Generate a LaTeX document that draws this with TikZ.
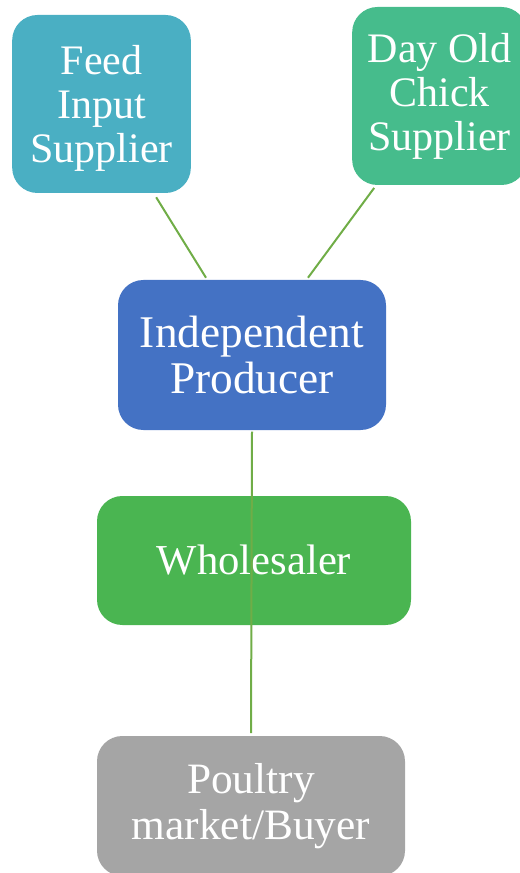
\documentclass[tikz,border=0pt]{standalone}
\usepackage{fontspec}
\setmainfont{Liberation Serif}
\usetikzlibrary{calc}

\definecolor{feedcol}{HTML}{4AAFC3}
\definecolor{chickcol}{HTML}{46BC8C}
\definecolor{prodcol}{HTML}{4472C4}
\definecolor{wholecol}{HTML}{4AB551}
\definecolor{buyercol}{HTML}{A5A5A5}
\definecolor{linkcol}{HTML}{70AD47}

\tikzset{
  box/.style={rounded corners=19pt, text=white, align=center, inner sep=0pt,
    font=\fontsize{31.5}{33}\selectfont},
  link/.style={draw=linkcol, line width=1.5pt},
}

\begin{document}
\begin{tikzpicture}[x=0.75pt,y=-0.75pt]

\useasboundingbox (0,0) rectangle (520,873);

% fornecedores
\node[box,fill=feedcol,minimum width=134pt,minimum height=133.5pt,text depth=-6pt] (feed) at (101.5,104) {Feed\\Input\\Supplier};
\node[box,fill=chickcol,minimum width=131pt,minimum height=133.5pt] (chick) at (439.5,96) {Day Old\\Chick\\Supplier};

% produtor
\node[box,fill=prodcol,minimum width=201pt,minimum height=112.5pt,
  font=\fontsize{34}{34.5}\selectfont] (prod) at (252,355) {Independent\\Producer};

% atacadista
\node[box,fill=wholecol,minimum width=235.5pt,minimum height=96.75pt,
  font=\fontsize{32}{34}\selectfont] (whole) at (254,560.5) {Wholesaler};

% comprador
\node[box,fill=buyercol,minimum width=231pt,minimum height=105pt,
  font=\fontsize{32.5}{34}\selectfont] (buyer) at (251,806) {Poultry\\market/Buyer};

% ligacoes
\draw[link] ([xshift=41pt,yshift=-3pt]feed.south) -- ([xshift=-34.5pt,yshift=1.5pt]prod.north);
\draw[link] ([xshift=-49pt,yshift=-2pt]chick.south) -- ([xshift=42pt,yshift=1.5pt]prod.north);
\draw[link] ([yshift=-1pt]prod.south) -- ([yshift=2pt]buyer.north);

\end{tikzpicture}
\end{document}
